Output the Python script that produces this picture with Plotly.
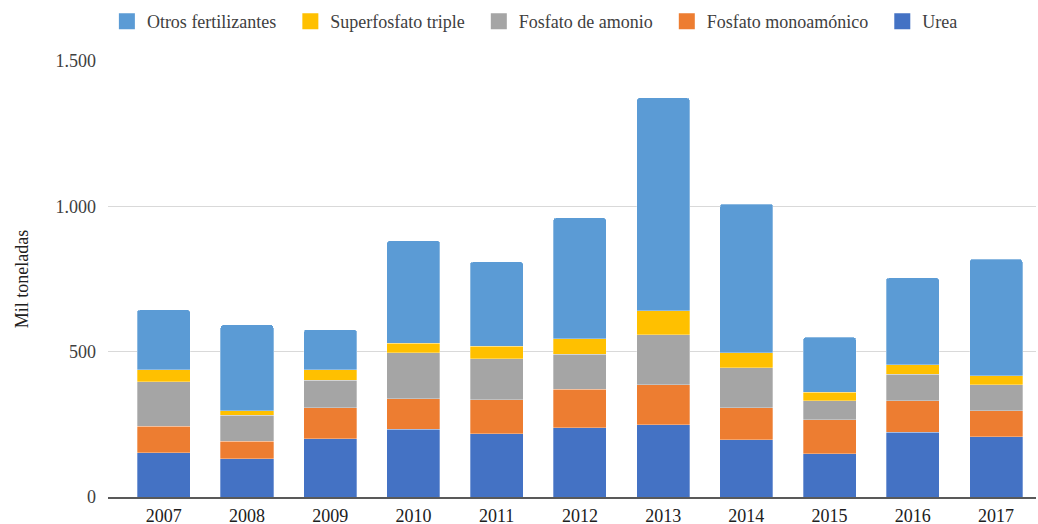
import plotly.graph_objects as go

years = ["2007", "2008", "2009", "2010", "2011", "2012", "2013", "2014", "2015", "2016", "2017"]
urea = [153, 132, 201, 233, 217, 238, 249, 197, 149, 222, 207]
fosfato_monoamonico = [90, 59, 106, 105, 117, 132, 137, 110, 116, 110, 90]
fosfato_amonio = [154, 90, 94, 159, 141, 121, 173, 137, 67, 91, 89]
superfosfato_triple = [41, 16, 37, 32, 43, 54, 81, 52, 28, 32, 31]
otros = [206, 295, 138, 353, 291, 415, 733, 512, 189, 299, 401]

series = [
    ("Urea", urea, "#4472C4"),
    ("Fosfato monoamónico", fosfato_monoamonico, "#ED7D31"),
    ("Fosfato de amonio", fosfato_amonio, "#A5A5A5"),
    ("Superfosfato triple", superfosfato_triple, "#FFC000"),
    ("Otros fertilizantes", otros, "#5B9BD5"),
]

font_family = "Liberation Serif"
fs = 18

fig = go.Figure()
for name, vals, color in series:
    fig.add_trace(go.Bar(
        x=list(range(len(years))), y=vals, name=name, showlegend=False,
        marker=dict(color=color, line=dict(color="rgba(255,255,255,0.5)", width=0.6)),
    ))
# legend-only entries with larger square swatches (extra spacing between entries)
legend_entries = list(reversed(series))
for i, (name, vals, color) in enumerate(legend_entries):
    label = name + ("\u00a0\u00a0" if i < len(legend_entries) - 1 else "")
    fig.add_trace(go.Scatter(
        x=[None], y=[None], name=label, mode="markers",
        marker=dict(symbol="square", size=16, color=color),
    ))

fig.update_layout(
    width=1038, height=524,
    barmode="stack",
    bargap=0.363,
    barcornerradius=3,
    separators=",.",
    plot_bgcolor="white", paper_bgcolor="white",
    font=dict(family=font_family, size=fs, color="#404040"),
    margin=dict(l=108, r=2, t=61, b=27, autoexpand=False),
    legend=dict(
        orientation="h", traceorder="normal", itemsizing="trace",
        x=0.46, xanchor="center", xref="paper",
        y=0.994, yanchor="top", yref="container",
        font=dict(family=font_family, size=fs, color="#404040"),
        itemwidth=30,
    ),
    xaxis=dict(
        tickmode="array", tickvals=list(range(len(years))), ticktext=years,
        range=[-0.67, 10.48], automargin=False,
        showline=True, linecolor="#595959", linewidth=2,
        showgrid=False, ticks="", zeroline=False,
        ticklabelstandoff=1,
        tickfont=dict(family=font_family, size=fs, color="#202020"),
    ),
    yaxis=dict(
        range=[0, 1500], tickvals=[0, 500, 1000, 1500], automargin=False,
        tickformat=",d",
        showgrid=True, gridcolor="#D9D9D9", gridwidth=1,
        zeroline=False, showline=False, ticks="",
        ticklabelstandoff=11,
        tickfont=dict(family=font_family, size=fs, color="#404040"),
        title=dict(text="Mil toneladas", font=dict(family=font_family, size=fs, color="#202020"), standoff=22),
    ),
)

fig.write_html("out.html", config={"displayModeBar": False},
               post_script="document.body.style.margin='0px';")
